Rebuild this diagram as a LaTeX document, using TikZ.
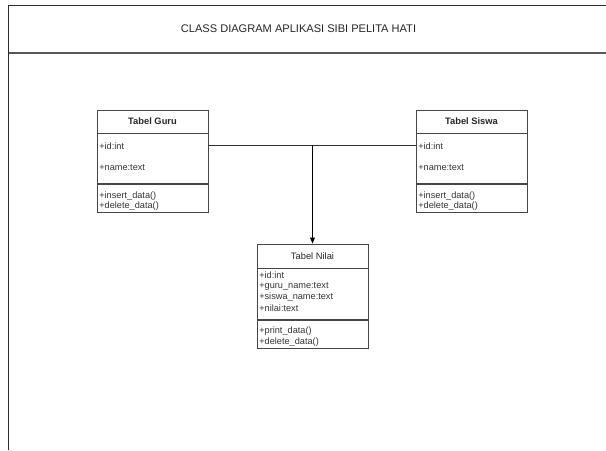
\documentclass[tikz,border=0pt]{standalone}
\usepackage{fontspec}
\setmainfont{Liberation Sans}
\usepackage{tikz}
\usetikzlibrary{arrows.meta}
\definecolor{framegray}{RGB}{45, 45, 45}
\definecolor{boxgray}{RGB}{70, 70, 70}

\tikzset{
  classbox/.style={draw=boxgray, line width=0.65pt, minimum width=83.25pt, inner sep=0pt},
  classhead/.style={inner sep=0pt, text=black!85, font=\fontsize{7pt}{8pt}\selectfont},
  member/.style={anchor=west, inner sep=0pt, text=black!80, font=\fontsize{6.9pt}{8pt}\selectfont},
}

\begin{document}
\begin{tikzpicture}[x=0.75pt, y=-0.75pt, >={Triangle[length=4.5pt,width=3.6pt]}]
    \useasboundingbox (0,0) rectangle (606,450);

    % frame and title
    \draw[framegray, line width=0.9pt] (606,5.5) -- (8.5,5.5) -- (8.5,450);
    \draw[framegray!80, line width=0.9pt] (8.5,53) -- (606,53);
    \node[inner sep=0pt, text=black!85, font=\fontsize{8.3pt}{9pt}\selectfont] (judul) at (298.5,29) {CLASS DIAGRAM APLIKASI SIBI PELITA HATI};

    % Tabel Guru
    \node[classbox, minimum height=76.5pt] (guru) at (152.5,161) {};
    \draw[boxgray, line width=0.65pt] (guru.west |- 0,133) -- (guru.east |- 0,133);
    \draw[boxgray, line width=1.4pt] (guru.west |- 0,184) -- (guru.east |- 0,184);
    \node[classhead, font=\fontsize{7pt}{8pt}\selectfont\bfseries] (guruhead) at (152.5,121) {Tabel Guru};
    \node[member] (guruid) at (99,146) {+id:int};
    \node[member] (guruname) at (99,168) {+name:text};
    \node[member] (guruinsert) at (99,196) {+insert\_data()};
    \node[member] (gurudelete) at (99,206.5) {+delete\_data()};

    % Tabel Siswa
    \node[classbox, minimum height=76.5pt] (siswa) at (471.5,161) {};
    \draw[boxgray, line width=0.65pt] (siswa.west |- 0,133) -- (siswa.east |- 0,133);
    \draw[boxgray, line width=1.4pt] (siswa.west |- 0,184) -- (siswa.east |- 0,184);
    \node[classhead, font=\fontsize{7pt}{8pt}\selectfont\bfseries] (siswahead) at (471.5,121) {Tabel Siswa};
    \node[member] (siswaid) at (418,146) {+id:int};
    \node[member] (siswaname) at (418,168) {+name:text};
    \node[member] (siswainsert) at (418,196) {+insert\_data()};
    \node[member] (siswadelete) at (418,206.5) {+delete\_data()};

    % Tabel Nilai
    \node[classbox, minimum height=78pt] (nilai) at (312.5,296) {};
    \draw[boxgray, line width=0.65pt] (nilai.west |- 0,268) -- (nilai.east |- 0,268);
    \draw[boxgray, line width=1.4pt] (nilai.west |- 0,320) -- (nilai.east |- 0,320);
    \node[classhead] (nilaihead) at (312.5,256) {Tabel Nilai};
    \node[member] (nilaiid) at (259,275.5) {+id:int};
    \node[member] (nilaiguru) at (259,286.5) {+guru\_name:text};
    \node[member] (nilaisiswa) at (259,297.5) {+siswa\_name:text};
    \node[member] (nilainilai) at (259,308.5) {+nilai:text};
    \node[member] (nilaiprint) at (259,331) {+print\_data()};
    \node[member] (nilaidelete) at (259,342) {+delete\_data()};

    % relations
    \coordinate (join) at (312.5,145);
    \draw[framegray, line width=0.6pt] (guru.east |- join) -- (siswa.west |- join);
    \draw[->, black, line width=0.6pt] (join) -- (nilai.north);
\end{tikzpicture}
\end{document}
